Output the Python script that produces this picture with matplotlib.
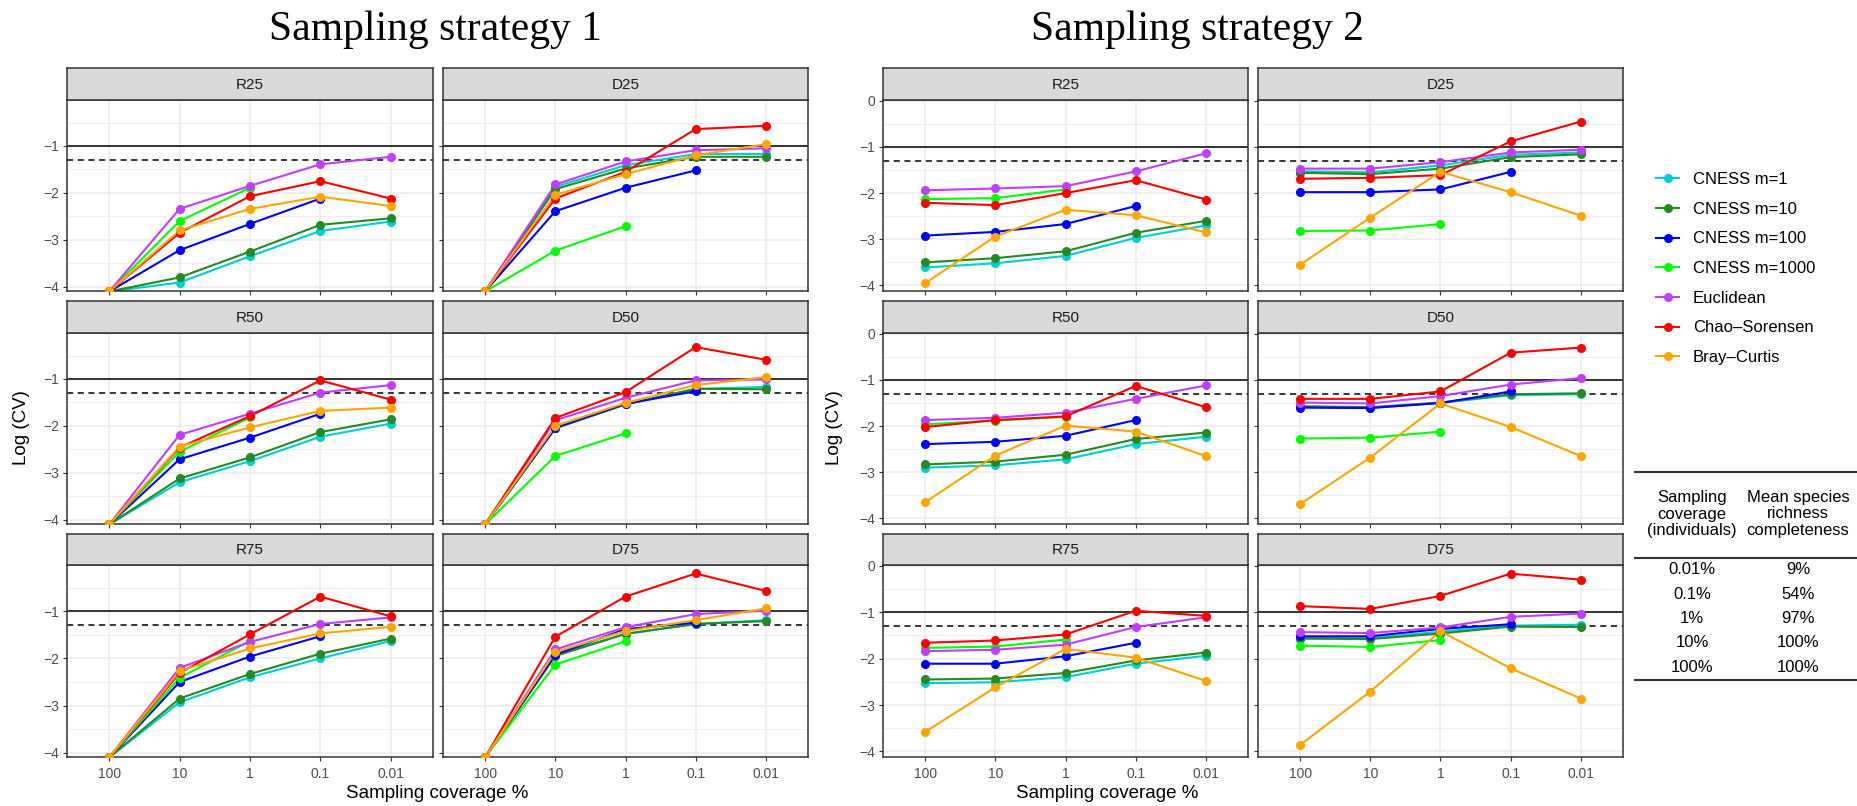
import numpy as np
import matplotlib
matplotlib.use("Agg")
import matplotlib.pyplot as plt
from matplotlib.lines import Line2D

nan = np.nan

# ---------------- data ----------------
coverage_labels = ["100", "10", "1", "0.1", "0.01"]
series_names = ["CNESS m=1", "CNESS m=10", "CNESS m=100", "CNESS m=1000",
                "Euclidean", "Chao\u2013Sorensen", "Bray\u2013Curtis"]
series_colors = ["#00CED1", "#228B22", "#0000FF", "#00FF00",
                 "#BF3EFF", "#FF0000", "#FFA500"]
panel_names = ["R25", "D25", "R50", "D50", "R75", "D75"]

# Sampling strategy 1 (rows: series in legend order, columns: coverage)
S1_R25 = [[-4.1, -3.91, -3.35, -2.81, -2.61],
          [-4.1, -3.80, -3.25, -2.68, -2.54],
          [-4.1, -3.22, -2.66, -2.12, nan],
          [-4.1, -2.60, -1.89, nan, nan],
          [-4.1, -2.34, -1.85, -1.39, -1.23],
          [-4.1, -2.85, -2.07, -1.75, -2.12],
          [-4.1, -2.80, -2.34, -2.08, -2.28]]
S1_D25 = [[-4.1, -1.87, -1.41, -1.17, -1.17],
          [-4.1, -1.92, -1.48, -1.23, -1.23],
          [-4.1, -2.39, -1.89, -1.52, nan],
          [-4.1, -3.23, -2.71, nan, nan],
          [-4.1, -1.82, -1.33, -1.09, -1.05],
          [-4.1, -2.12, -1.55, -0.64, -0.57],
          [-4.1, -2.04, -1.60, -1.20, -0.96]]
S1_R50 = [[-4.1, -3.20, -2.75, -2.23, -1.95],
          [-4.1, -3.12, -2.67, -2.13, -1.86],
          [-4.1, -2.71, -2.25, -1.74, nan],
          [-4.1, -2.55, -1.82, nan, nan],
          [-4.1, -2.19, -1.74, -1.29, -1.13],
          [-4.1, -2.46, -1.79, -1.03, -1.44],
          [-4.1, -2.44, -2.03, -1.68, -1.61]]
S1_D50 = [[-4.1, -2.05, -1.54, -1.21, -1.17],
          [-4.1, -2.05, -1.54, -1.21, -1.22],
          [-4.1, -2.04, -1.53, -1.26, nan],
          [-4.1, -2.64, -2.16, nan, nan],
          [-4.1, -1.88, -1.40, -1.03, -1.01],
          [-4.1, -1.83, -1.28, -0.32, -0.59],
          [-4.1, -2.00, -1.51, -1.13, -0.96]]
S1_R75 = [[-4.1, -2.93, -2.40, -2.00, -1.63],
          [-4.1, -2.85, -2.33, -1.90, -1.58],
          [-4.1, -2.50, -1.96, -1.53, nan],
          [-4.1, -2.41, -1.63, nan, nan],
          [-4.1, -2.20, -1.65, -1.27, -1.13],
          [-4.1, -2.31, -1.49, -0.69, -1.11],
          [-4.1, -2.27, -1.79, -1.47, -1.33]]
S1_D75 = [[-4.1, -1.92, -1.48, -1.27, -1.19],
          [-4.1, -1.95, -1.48, -1.27, -1.21],
          [-4.1, -1.92, -1.38, -1.24, nan],
          [-4.1, -2.13, -1.64, nan, nan],
          [-4.1, -1.81, -1.34, -1.06, -0.99],
          [-4.1, -1.54, -0.69, -0.20, -0.57],
          [-4.1, -1.86, -1.42, -1.19, -0.94]]

# Sampling strategy 2
S2_R25 = [[-3.61, -3.52, -3.36, -2.97, -2.70],
          [-3.50, -3.41, -3.26, -2.86, -2.60],
          [-2.92, -2.84, -2.67, -2.28, nan],
          [-2.13, -2.11, -1.92, nan, nan],
          [-1.94, -1.90, -1.85, -1.53, -1.14],
          [-2.21, -2.26, -2.00, -1.72, -2.14],
          [-3.95, -2.94, -2.36, -2.48, -2.85]]
S2_D25 = [[-1.53, -1.55, -1.40, -1.17, -1.12],
          [-1.56, -1.59, -1.47, -1.22, -1.16],
          [-1.98, -1.98, -1.92, -1.54, nan],
          [-2.82, -2.81, -2.67, nan, nan],
          [-1.47, -1.47, -1.33, -1.12, -1.06],
          [-1.69, -1.67, -1.61, -0.88, -0.45],
          [-3.55, -2.53, -1.54, -1.98, -2.49]]
S2_R50 = [[-2.90, -2.85, -2.72, -2.39, -2.23],
          [-2.83, -2.77, -2.62, -2.28, -2.14],
          [-2.39, -2.34, -2.21, -1.87, nan],
          [-1.96, -1.88, -1.80, nan, nan],
          [-1.87, -1.82, -1.71, -1.41, -1.12],
          [-2.02, -1.87, -1.79, -1.13, -1.59],
          [-3.65, -2.64, -1.99, -2.12, -2.65]]
S2_D50 = [[-1.58, -1.60, -1.50, -1.33, -1.31],
          [-1.57, -1.59, -1.49, -1.31, -1.29],
          [-1.60, -1.61, -1.50, -1.25, nan],
          [-2.27, -2.25, -2.12, nan, nan],
          [-1.49, -1.51, -1.35, -1.10, -0.96],
          [-1.41, -1.41, -1.25, -0.41, -0.30],
          [-3.69, -2.68, -1.51, -2.02, -2.65]]
S2_R75 = [[-2.53, -2.51, -2.40, -2.11, -1.94],
          [-2.45, -2.43, -2.31, -2.04, -1.87],
          [-2.11, -2.11, -1.95, -1.66, nan],
          [-1.77, -1.74, -1.59, nan, nan],
          [-1.84, -1.81, -1.70, -1.32, -1.11],
          [-1.66, -1.61, -1.48, -0.97, -1.08],
          [-3.58, -2.62, -1.79, -1.98, -2.48]]
S2_D75 = [[-1.55, -1.56, -1.42, -1.29, -1.27],
          [-1.57, -1.58, -1.46, -1.31, -1.32],
          [-1.52, -1.52, -1.36, -1.26, nan],
          [-1.72, -1.75, -1.60, nan, nan],
          [-1.43, -1.45, -1.33, -1.10, -1.03],
          [-0.87, -0.93, -0.65, -0.17, -0.30],
          [-3.86, -2.71, -1.41, -2.21, -2.86]]

ref_solid = -1.0
ref_dashed = np.log10(0.05)

table_cov = ["0.01%", "0.1%", "1%", "10%", "100%"]
table_compl = ["9%", "54%", "97%", "100%", "100%"]

# ---------------- figure ----------------
W, H = 1858, 806
plt.rcParams['font.family'] = ['Liberation Sans', 'DejaVu Sans']
fig = plt.figure(figsize=(W / 100, H / 100), dpi=100)

def fx(px):
    return px / W

def fy(py):
    return 1 - py / H

def rect(x0, x1, ytop, ybot):
    return [fx(x0), fy(ybot), fx(x1) - fx(x0), (ybot - ytop) / H]

cols = {1: [(67, 433), (443, 808)], 2: [(883, 1248), (1258, 1623)]}
rows = [(68, 100, 291), (301, 333, 524), (534, 565, 757)]
ylims = {1: (-4.09, -0.02), 2: (-4.12, 0.016)}
yticks = {1: [-1, -2, -3, -4], 2: [0, -1, -2, -3, -4]}
panels = {1: [S1_R25, S1_D25, S1_R50, S1_D50, S1_R75, S1_D75],
          2: [S2_R25, S2_D25, S2_R50, S2_D50, S2_R75, S2_D75]}

grey20 = "#333333"
xs = np.arange(len(coverage_labels))
handles = None

for strat in (1, 2):
    for i, (name, data) in enumerate(zip(panel_names, panels[strat])):
        r, c = divmod(i, 2)
        x0, x1 = cols[strat][c]
        st, pt, pb = rows[r]
        ax = fig.add_axes(rect(x0, x1, pt, pb))
        sax = fig.add_axes(rect(x0, x1, st, pt))
        # strip
        sax.set_facecolor("#D9D9D9")
        sax.set_xticks([]); sax.set_yticks([])
        for sp in sax.spines.values():
            sp.set_color(grey20); sp.set_linewidth(1.1)
        sax.text(0.5, 0.47, name, ha="center", va="center", fontsize=11,
                 color="#1A1A1A", transform=sax.transAxes)
        # panel
        ax.set_xlim(-0.6, len(xs) - 0.4)
        ax.set_ylim(*ylims[strat])
        ax.set_xticks(xs)
        ax.set_yticks(yticks[strat])
        ax.set_yticks([-0.5, -1.5, -2.5, -3.5], minor=True)
        ax.grid(which="major", color="#EBEBEB", lw=1.1, zorder=0)
        ax.grid(which="minor", axis="y", color="#EBEBEB", lw=0.6, zorder=0)
        ax.set_axisbelow(True)
        for sp in ax.spines.values():
            sp.set_color(grey20); sp.set_linewidth(1.1)
        ax.tick_params(which="major", length=3, width=0.8, color=grey20,
                       labelsize=10, labelcolor="#4D4D4D", pad=2.5)
        ax.tick_params(which="minor", length=0)
        if r == 2:
            ax.set_xticklabels(coverage_labels)
            ax.tick_params(axis="x", pad=4)
        else:
            ax.set_xticklabels([])
        if c == 0:
            ax.set_yticklabels(["0" if t == 0 else "\u2212%d" % (-t) for t in yticks[strat]])
        else:
            ax.set_yticklabels([])
        ax.axhline(ref_solid, color="black", lw=1.1, zorder=1)
        ax.axhline(ref_dashed, color="black", lw=1.1, ls=(0, (4, 3)), zorder=1)
        hs = []
        for vals, col, lab in zip(data, series_colors, series_names):
            ax.plot(xs, vals, color=col, lw=1.5, zorder=2)
        for vals, col, lab in zip(data, series_colors, series_names):
            ax.plot(xs, vals, ls="none", marker="o", ms=5.5, color=col, zorder=3)
            hs.append(Line2D([], [], color=col, lw=1.5, marker="o", ms=5.5, label=lab))
        handles = hs

# titles and axis titles
fig.text(fx(435), fy(30), "Sampling strategy 1", ha="center", va="center",
         fontsize=30, family="Liberation Serif")
fig.text(fx(1197), fy(30), "Sampling strategy 2", ha="center", va="center",
         fontsize=30, family="Liberation Serif")
for xl in (22, 835):
    fig.text(fx(xl), fy(428), "Log (CV)", rotation=90, ha="center", va="center",
             fontsize=13.5)
fig.text(fx(437), fy(793), "Sampling coverage %", ha="center", va="center", fontsize=13.5)
fig.text(fx(1107), fy(793), "Sampling coverage %", ha="center", va="center", fontsize=13.5)

# legend
fig.legend(handles=handles, loc="upper left",
           bbox_to_anchor=(fx(1656), fy(172)), frameon=False, fontsize=12,
           handlelength=1.4, handletextpad=0.8, labelspacing=0.88,
           borderaxespad=0, borderpad=0)

# table
def hrule(py, x0=1635, x1=1858):
    fig.add_artist(Line2D([fx(x0), fx(x1)], [fy(py), fy(py)], color=grey20, lw=1.5))

hrule(472); hrule(558); hrule(680)
fig.text(fx(1692), fy(514), "Sampling\ncoverage\n(individuals)", ha="center",
         va="center", fontsize=12, linespacing=1.1)
fig.text(fx(1798), fy(514), "Mean species\nrichness\ncompleteness", ha="center",
         va="center", fontsize=12, linespacing=1.1)
for k, (a, b) in enumerate(zip(table_cov, table_compl)):
    yy = 570 + k * 24.3
    fig.text(fx(1692), fy(yy), a, ha="center", va="center", fontsize=12)
    fig.text(fx(1798), fy(yy), b, ha="center", va="center", fontsize=12)

fig.savefig("out.png", dpi=100, facecolor="white")
